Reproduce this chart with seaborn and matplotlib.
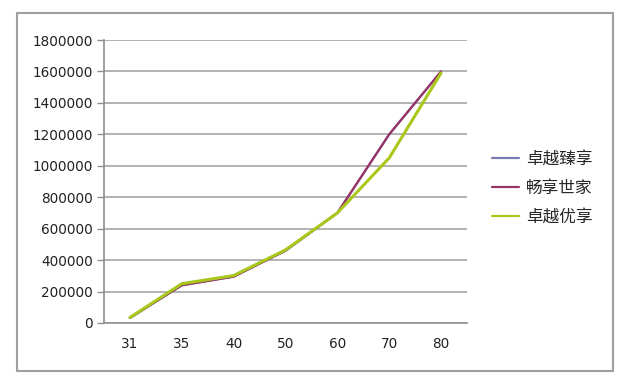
import numpy as np
import pandas as pd
import seaborn as sns
import matplotlib.pyplot as plt
from matplotlib.patches import Rectangle
from matplotlib.ticker import FixedLocator

AGES = ["31", "35", "40", "50", "60", "70", "80"]
SERIES = ["卓越臻享", "畅享世家", "卓越优享"]
ZHENXIANG = [32000, 240000, 295000, 460000, 700000, 1200000, 1600000]
CHANGXIANG = [32000, 240000, 295000, 460000, 700000, 1200000, 1600000]
YOUXIANG = [35000, 250000, 302000, 465000, 700000, 1050000, 1590000]
COLORS = ["#7b7bb3", "#993366", "#a8c81c"]
YTICKS = [0, 200000, 400000, 600000, 800000, 1000000, 1200000, 1400000, 1600000, 1800000]

df = pd.DataFrame({
    "age": AGES * 3,
    "value": ZHENXIANG + CHANGXIANG + YOUXIANG,
    "plan": [s for s in SERIES for _ in AGES],
})

sns.set_theme(style="white")
plt.rcParams["font.family"] = ["DejaVu Sans", "Noto Sans CJK SC"]

fig = plt.figure(figsize=(6.25, 3.78), dpi=100)
fig.patch.set_facecolor("white")
ax = fig.add_axes([104 / 625, 1 - 323 / 378, (467 - 104) / 625, (323 - 40) / 378])

sns.lineplot(data=df, x="age", y="value", hue="plan", hue_order=SERIES,
             palette=COLORS, sort=False, linewidth=1.6, ax=ax)
# the green line sits on top and looks a bit thicker
ax.lines[2].set_linewidth(2.2)

ax.set_xlim(-0.5, len(AGES) - 0.5)
ax.set_ylim(0, 1800000)
ax.set_yticks(YTICKS)
ax.set_yticklabels([str(v) for v in YTICKS])
ax.set_xticks(range(len(AGES)))
ax.set_xticklabels(AGES)
ax.xaxis.set_minor_locator(FixedLocator(np.arange(-0.5, len(AGES), 1.0)))
ax.tick_params(axis="x", which="major", length=0, pad=10, labelsize=9.8, colors="#222222")
ax.tick_params(axis="x", which="minor", length=5, width=1, color="#909090", direction="out")
ax.tick_params(axis="y", which="major", length=5, width=1, color="#909090", pad=3,
               labelsize=9.8, labelcolor="#222222", left=True)
ax.grid(axis="y", color="#a6a6a6", linewidth=1.2)
ax.set_axisbelow(True)
for side in ("top", "right"):
    ax.spines[side].set_visible(False)
for side in ("left", "bottom"):
    ax.spines[side].set_color("#909090")
    ax.spines[side].set_linewidth(1.2)
ax.set_xlabel("")
ax.set_ylabel("")

handles, labels = ax.get_legend_handles_labels()
ax.get_legend().remove()
fig.legend(handles, labels, loc="center left", bbox_to_anchor=(484 / 625, 1 - 188 / 378),
           frameon=False, prop={"family": "Noto Sans CJK SC", "size": 12},
           handlelength=1.6, handletextpad=0.4, labelspacing=0.72, borderpad=0)

fig.patches.append(Rectangle((17 / 625, 1 - 371 / 378), 596 / 625, 358 / 378,
                             transform=fig.transFigure, fill=False,
                             edgecolor="#a0a0a0", linewidth=1.5))

fig.savefig("out.png", dpi=100)
